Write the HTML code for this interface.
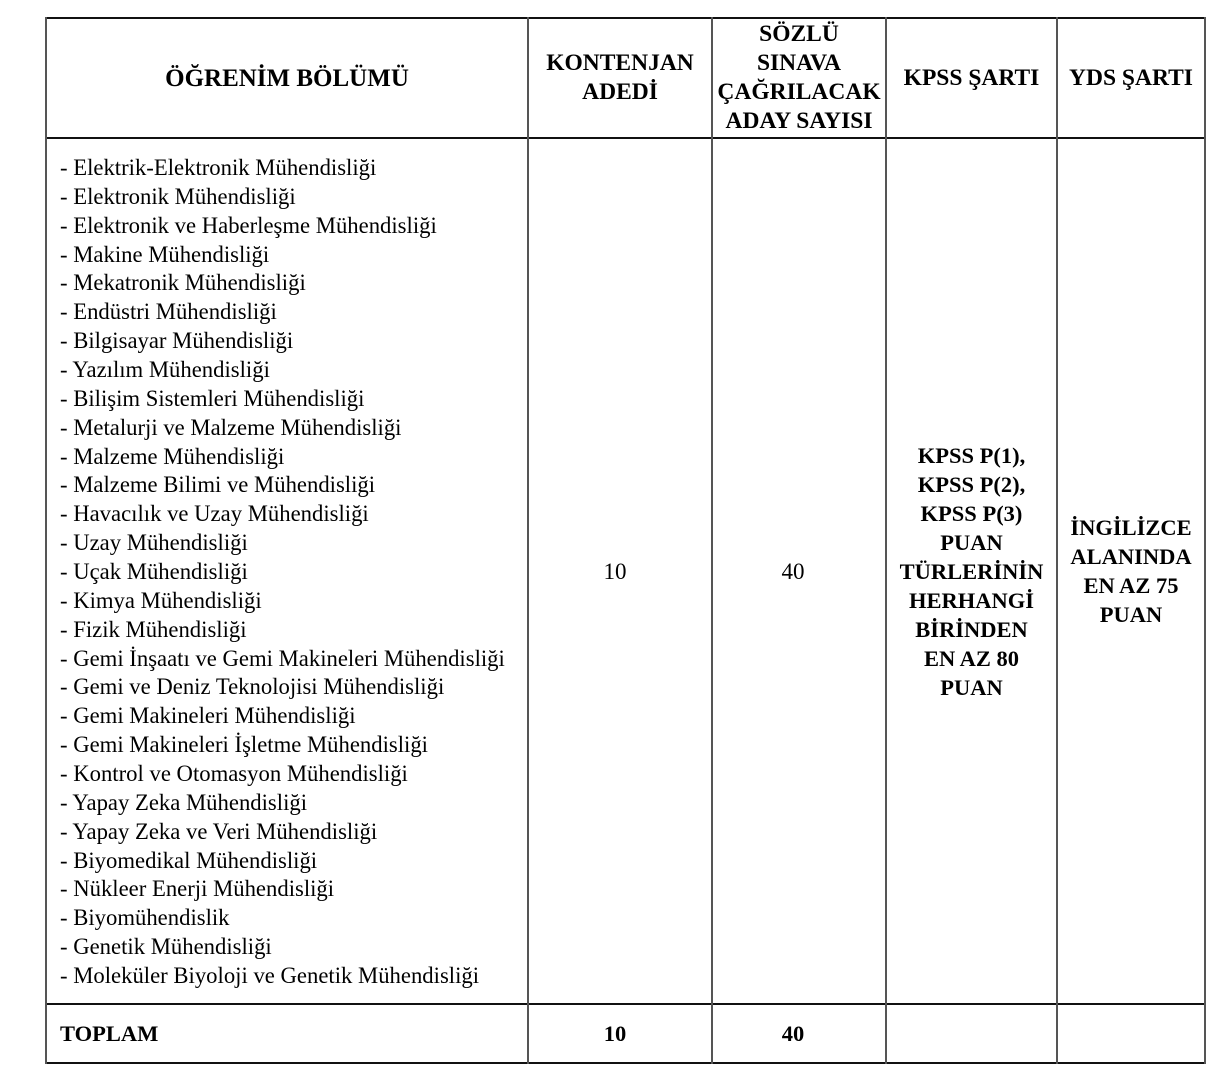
<!DOCTYPE html>
<html><head><meta charset="utf-8"><style>
body{margin:0;width:1226px;height:1089px;background:#fff;position:relative;overflow:hidden;font-family:"Liberation Serif","Times New Roman",serif;color:#000}
.h{position:absolute;height:2px;background:#111;left:46px;width:1160px}
.v{position:absolute;width:2px;background:#555;top:17px;height:1047px}
.c{position:absolute;display:flex;align-items:center;justify-content:center;text-align:center;font-weight:bold;font-size:21.5px;line-height:29px}
.hd{font-size:23.5px}
.list{position:absolute;left:60px;top:154px;font-size:22.7px;line-height:28.86px;white-space:nowrap}
</style></head><body>
<div class="h" style="top:17px"></div>
<div class="h" style="top:137px"></div>
<div class="h" style="top:1003px"></div>
<div class="h" style="top:1062px"></div>
<div class="v" style="left:45px"></div>
<div class="v" style="left:527px"></div>
<div class="v" style="left:711px"></div>
<div class="v" style="left:885px"></div>
<div class="v" style="left:1056px"></div>
<div class="v" style="left:1204px"></div>

<div class="c hd" style="left:47px;width:480px;top:19px;height:118px;font-size:25px">ÖĞRENİM BÖLÜMÜ</div>
<div class="c hd" style="left:529px;width:182px;top:19px;height:118px">KONTENJAN<br>ADEDİ</div>
<div class="c hd" style="left:713px;width:172px;top:19px;height:118px">SÖZLÜ<br>SINAVA<br>ÇAĞRILACAK<br>ADAY SAYISI</div>
<div class="c hd" style="left:887px;width:169px;top:19px;height:118px">KPSS ŞARTI</div>
<div class="c hd" style="left:1058px;width:146px;top:19px;height:118px">YDS ŞARTI</div>

<div class="list">- Elektrik-Elektronik Mühendisliği<br>- Elektronik Mühendisliği<br>- Elektronik ve Haberleşme Mühendisliği<br>- Makine Mühendisliği<br>- Mekatronik Mühendisliği<br>- Endüstri Mühendisliği<br>- Bilgisayar Mühendisliği<br>- Yazılım Mühendisliği<br>- Bilişim Sistemleri Mühendisliği<br>- Metalurji ve Malzeme Mühendisliği<br>- Malzeme Mühendisliği<br>- Malzeme Bilimi ve Mühendisliği<br>- Havacılık ve Uzay Mühendisliği<br>- Uzay Mühendisliği<br>- Uçak Mühendisliği<br>- Kimya Mühendisliği<br>- Fizik Mühendisliği<br>- Gemi İnşaatı ve Gemi Makineleri Mühendisliği<br>- Gemi ve Deniz Teknolojisi Mühendisliği<br>- Gemi Makineleri Mühendisliği<br>- Gemi Makineleri İşletme Mühendisliği<br>- Kontrol ve Otomasyon Mühendisliği<br>- Yapay Zeka Mühendisliği<br>- Yapay Zeka ve Veri Mühendisliği<br>- Biyomedikal Mühendisliği<br>- Nükleer Enerji Mühendisliği<br>- Biyomühendislik<br>- Genetik Mühendisliği<br>- Moleküler Biyoloji ve Genetik Mühendisliği</div>

<div class="c" style="left:529px;width:172px;top:139px;height:864px;font-weight:normal;font-size:23px">10</div>
<div class="c" style="left:713px;width:160px;top:139px;height:864px;font-weight:normal;font-size:23px">40</div>
<div class="c" style="left:887px;width:169px;top:139px;height:864px;font-size:22.5px">KPSS P(1),<br>KPSS P(2),<br>KPSS P(3)<br>PUAN<br>TÜRLERİNİN<br>HERHANGİ<br>BİRİNDEN<br>EN AZ 80<br>PUAN</div>
<div class="c" style="left:1058px;width:146px;top:139px;height:864px;font-size:22.5px">İNGİLİZCE<br>ALANINDA<br>EN AZ 75<br>PUAN</div>

<div class="c" style="left:60px;top:1005px;height:57px;justify-content:flex-start;font-size:22.5px">TOPLAM</div>
<div class="c" style="left:529px;width:172px;top:1005px;height:57px;font-size:22.5px">10</div>
<div class="c" style="left:713px;width:160px;top:1005px;height:57px;font-size:22.5px">40</div>
</body></html>
